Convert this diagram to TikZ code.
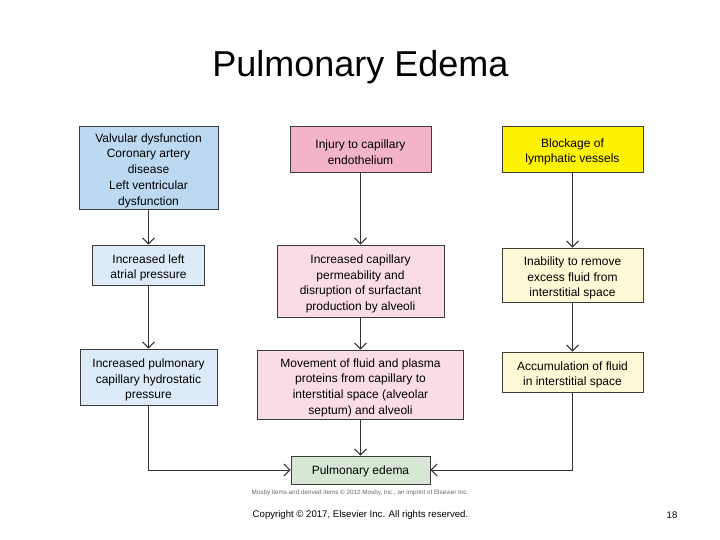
\documentclass[tikz,border=0pt]{standalone}
\usepackage{fontspec}
\setmainfont{Liberation Sans}
\usetikzlibrary{arrows.meta}
\definecolor{bluedk}{HTML}{BDD9F2}
\definecolor{bluelt}{HTML}{DDEBF8}
\definecolor{pinkdk}{HTML}{F4B4C8}
\definecolor{pinklt}{HTML}{F9DCE5}
\definecolor{yeldk}{HTML}{FFF200}
\definecolor{yellt}{HTML}{FFF8D6}
\definecolor{greenlt}{HTML}{D6E8D4}
\definecolor{edge}{HTML}{3C3C3C}
\tikzset{
  boxnode/.style={draw=edge, line width=0.8pt, inner sep=0pt},
  boxtext/.style={inner sep=0pt, align=center, font=\fontsize{12}{15.7}\selectfont, text=black},
  arr/.style={draw=black!80, line width=0.8pt, -{Straight Barb[length=6pt,width=12pt,line width=1pt]}}
}
\begin{document}
\begin{tikzpicture}[x=1pt,y=-1pt]
\useasboundingbox (0,0) rectangle (720,540);
\node[font=\fontsize{36}{40}\selectfont] (title) at (360.5,67) {Pulmonary Edema};

\node[boxnode, fill=bluedk, minimum width=139pt, minimum height=83pt] (A) at (148.5,167.5) {};
\node[boxnode, fill=pinkdk, minimum width=141pt, minimum height=46pt] (B) at (360.5,149) {};
\node[boxnode, fill=yeldk, minimum width=141pt, minimum height=46pt] (C) at (572.5,149) {};
\node[boxnode, fill=bluelt, minimum width=112pt, minimum height=40pt] (D) at (148.5,265) {};
\node[boxnode, fill=pinklt, minimum width=167pt, minimum height=72pt] (E) at (360.5,281) {};
\node[boxnode, fill=yellt, minimum width=141pt, minimum height=54pt] (F) at (572.5,275) {};
\node[boxnode, fill=bluelt, minimum width=137pt, minimum height=56pt] (G) at (148.5,377) {};
\node[boxnode, fill=pinklt, minimum width=206pt, minimum height=69pt] (H) at (360.5,384.5) {};
\node[boxnode, fill=yellt, minimum width=141pt, minimum height=40pt] (I) at (572.5,372) {};
\node[boxnode, fill=greenlt, minimum width=139pt, minimum height=28pt] (J) at (360.5,470) {};

\node[boxtext] (At) at ([yshift=-3pt]A.center) {Valvular dysfunction\\Coronary artery\\disease\\Left ventricular\\dysfunction};
\node[boxtext] (Bt) at ([yshift=-3pt]B.center) {Injury to capillary\\endothelium};
\node[boxtext] (Ct) at ([yshift=-3pt]C.center) {Blockage of\\lymphatic vessels};
\node[boxtext] (Dt) at ([yshift=-3pt]D.center) {Increased left\\atrial pressure};
\node[boxtext] (Et) at ([yshift=-3pt]E.center) {Increased capillary\\permeability and\\disruption of surfactant\\production by alveoli};
\node[boxtext] (Ft) at ([yshift=-3pt]F.center) {Inability to remove\\excess fluid from\\interstitial space};
\node[boxtext] (Gt) at ([yshift=-3pt]G.center) {Increased pulmonary\\capillary hydrostatic\\pressure};
\node[boxtext] (Ht) at ([yshift=-3pt]H.center) {Movement of fluid and plasma\\proteins from capillary to\\interstitial space (alveolar\\septum) and alveoli};
\node[boxtext] (It) at ([yshift=-3pt]I.center) {Accumulation of fluid\\in interstitial space};
\node[boxtext, font=\fontsize{12}{14}\selectfont] (Jt) at ([yshift=-1pt]J.center) {Pulmonary edema};

\draw[arr] (A) -- (D);
\draw[arr] (D) -- (G);
\draw[arr] (B) -- (E);
\draw[arr] (E) -- (H);
\draw[arr] (H) -- (J);
\draw[arr] (C) -- (F);
\draw[arr] (F) -- (I);
\draw[arr] (G.south) |- (J.west);
\draw[arr] (I.south) |- (J.east);

\node[font=\fontsize{6.3}{7}\selectfont, text=black!60] (credit) at (360,493)
  {Mosby items and derived items © 2012 Mosby, Inc., an imprint of Elsevier Inc.};
\node[font=\fontsize{9.6}{11}\selectfont] (copy) at (360.5,515)
  {Copyright © 2017, Elsevier Inc. All rights reserved.};
\node[font=\fontsize{9.6}{11}\selectfont] (page) at (672,515) {18};
\end{tikzpicture}
\end{document}
